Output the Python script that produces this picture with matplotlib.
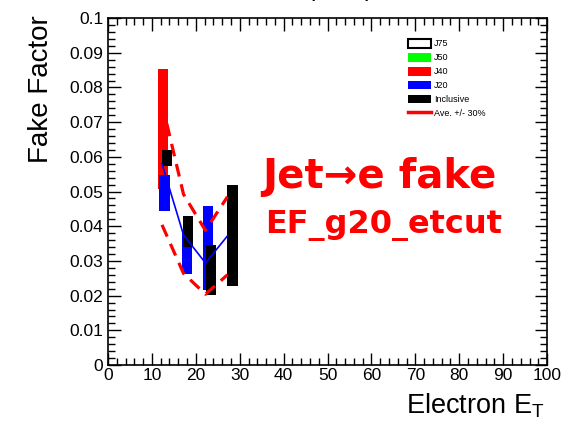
## Fake factor vs electron ET, ROOT-style box plot
import matplotlib
matplotlib.use("Agg")
import matplotlib.pyplot as plt
from matplotlib.patches import Patch
from matplotlib.lines import Line2D
from matplotlib.ticker import MultipleLocator, FixedLocator, FixedFormatter

# J40 boxes
j40_x = [12.55]
j40_lo = [0.0507]
j40_hi = [0.0853]
# J20 boxes
j20_x = [12.85, 18.0, 22.85]
j20_lo = [0.0444, 0.0262, 0.0216]
j20_hi = [0.0548, 0.0380, 0.0458]
# inclusive boxes
inc_x = [13.45, 18.25, 23.45, 28.35]
inc_lo = [0.0573, 0.0340, 0.0202, 0.0228]
inc_hi = [0.0620, 0.0429, 0.0346, 0.0519]
# average and +/- 30% band
ave_x = [12.3, 17.2, 22.2, 27.2]
ave_y = [0.0580, 0.0375, 0.0294, 0.0372]
up_y = [0.0754, 0.0492, 0.0388, 0.0485]
dn_y = [0.0404, 0.0264, 0.0204, 0.0260]

xticks = [0, 10, 20, 30, 40, 50, 60, 70, 80, 90, 100]
yticks = [0, 0.01, 0.02, 0.03, 0.04, 0.05, 0.06, 0.07, 0.08, 0.09, 0.1]
ylabels = ['0', '0.01', '0.02', '0.03', '0.04', '0.05', '0.06', '0.07', '0.08', '0.09', '0.1']

plt.rcParams['font.family'] = ['Liberation Sans', 'DejaVu Sans']

fig = plt.figure(figsize=(5.64, 4.21), dpi=100)
ax = fig.add_axes([0.1915, 0.133, 0.7785, 0.824])

def boxes(x, lo, hi, color, w=2.35):
    ax.bar(x, [h - l for h, l in zip(hi, lo)], bottom=lo, width=w,
           color=color, edgecolor='none', zorder=2)

boxes(j40_x, j40_lo, j40_hi, '#ff0000')
boxes(j20_x, j20_lo, j20_hi, '#0000ff')
boxes(inc_x, inc_lo, inc_hi, '#000000')

ax.plot(ave_x, ave_y, color='#0000ff', lw=1.2, zorder=3)
ax.plot(ave_x, up_y, color='#ff0000', lw=2.3, dashes=(4, 2.5), zorder=4)
ax.plot(ave_x, dn_y, color='#ff0000', lw=2.3, dashes=(4, 2.5), zorder=4)

ax.set_xlim(0, 100)
ax.set_ylim(0, 0.1)
ax.xaxis.set_major_locator(FixedLocator(xticks))
ax.xaxis.set_minor_locator(MultipleLocator(2))
ax.yaxis.set_major_locator(FixedLocator(yticks))
ax.yaxis.set_major_formatter(FixedFormatter(ylabels))
ax.yaxis.set_minor_locator(MultipleLocator(0.002))
ax.tick_params(which='both', direction='in', top=True, right=True, width=1, labelsize=12.5)
ax.tick_params(which='major', length=9)
ax.tick_params(which='minor', length=5)
ax.tick_params(axis='x', pad=2)
for s in ax.spines.values():
    s.set_linewidth(1.2)

ax.set_ylabel('Fake Factor', fontsize=20)
ax.yaxis.set_label_coords(-0.124, 1.008)
ax.yaxis.label.set_ha('right')
fig.text(545 / 564, 1 - 414 / 421, 'Electron E$_\\mathregular{T}$', fontsize=19.5,
         ha='right', va='baseline')
# title, mostly outside the canvas
fig.text(373 / 564, 1 + 4 / 421, 'E$_\\mathregular{T}$ (GeV)', fontsize=18,
         ha='right', va='baseline')

ax.text(35.1, 0.051, 'Jet\u2192e fake', color='#ff0000', fontsize=29,
        fontweight='bold', family='DejaVu Sans')
ax.text(35.8, 0.038, 'EF_g20_etcut', color='#ff0000', fontsize=23,
        fontweight='bold', family='DejaVu Sans')

handles = [
    Patch(facecolor='white', edgecolor='black', lw=1.5, label='J75'),
    Patch(facecolor='#00ff00', edgecolor='none', label='J50'),
    Patch(facecolor='#ff0000', edgecolor='none', label='J40'),
    Patch(facecolor='#0000ff', edgecolor='none', label='J20'),
    Patch(facecolor='#000000', edgecolor='none', label='Inclusive'),
    Line2D([], [], color='#ff0000', lw=2.5, label='Ave. +/- 30%'),
]
ax.legend(handles=handles, loc='upper left', bbox_to_anchor=(0.675, 0.95),
          frameon=False, fontsize=6.5, handlelength=2.55, handleheight=1.1,
          labelspacing=0.5, handletextpad=0.3, borderaxespad=0)

plt.savefig('out.png', dpi=100)
